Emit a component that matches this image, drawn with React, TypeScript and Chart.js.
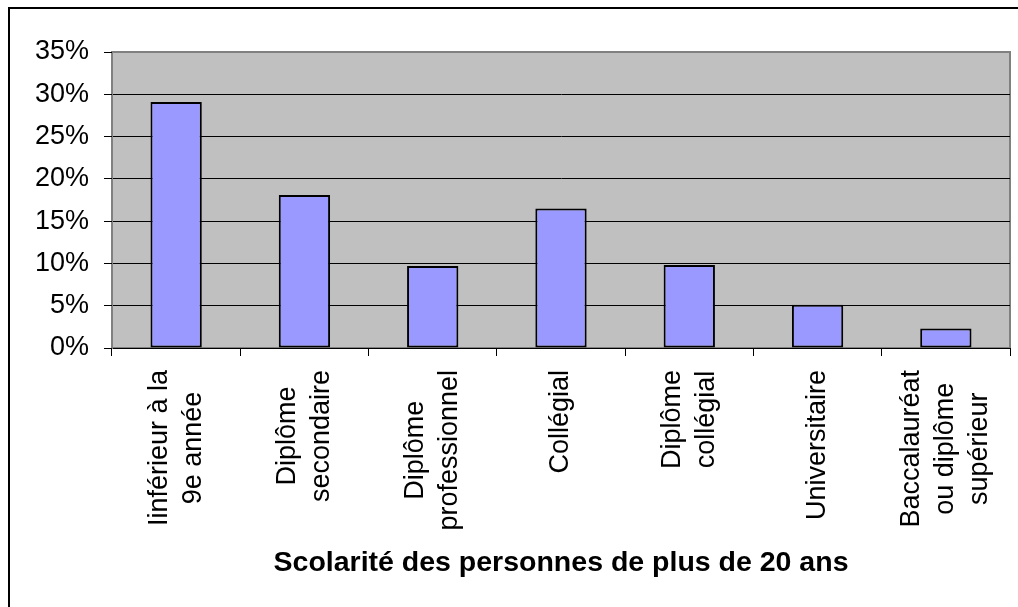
import React, { useEffect, useRef } from "react";
import { Chart, registerables } from "chart.js";

Chart.register(...registerables);

const categories: string[][] = [
  ["Iinférieur à la", "9e année"],
  ["Diplôme", "secondaire"],
  ["Diplôme", "professionnel"],
  ["Collégial"],
  ["Diplôme", "collégial"],
  ["Universitaire"],
  ["Baccalauréat", "ou diplôme", "supérieur"],
];
const values: number[] = [29.1, 18.1, 9.7, 16.5, 9.8, 5.1, 2.3];
const yMin = 0;
const yMax = 35;
const yStep = 5;
const axisTitle = "Scolarité des personnes de plus de 20 ans";

const FONT = "'Liberation Sans', Arial, sans-serif";
const TICK_SIZE = 27;
const LINE_SPACING = 34;

const decorPlugin = {
  id: "decor",
  beforeDraw(chart: any) {
    const { ctx, chartArea } = chart;
    ctx.save();
    // outer frame
    ctx.strokeStyle = "#000";
    ctx.lineWidth = 2;
    ctx.strokeRect(9, 8, 3000, 3000);
    // plot background
    ctx.fillStyle = "#C0C0C0";
    ctx.fillRect(chartArea.left, chartArea.top, chartArea.right - chartArea.left, chartArea.bottom - chartArea.top);
    ctx.strokeStyle = "#808080";
    ctx.lineWidth = 2;
    ctx.strokeRect(chartArea.left, chartArea.top, chartArea.right - chartArea.left, chartArea.bottom - chartArea.top);
    ctx.restore();
  },
  afterDraw(chart: any) {
    const { ctx } = chart;
    const xs = chart.scales.x;
    const yTop = xs.top + 22;
    ctx.save();
    ctx.fillStyle = "#000";
    ctx.font = `${TICK_SIZE}px ${FONT}`;
    ctx.textAlign = "center";
    ctx.textBaseline = "middle";
    categories.forEach((lines, i) => {
      const cx = xs.getPixelForValue(i);
      const w = Math.max(...lines.map((l) => ctx.measureText(l).width));
      const n = lines.length;
      lines.forEach((line, j) => {
        ctx.save();
        ctx.translate(cx + (j - (n - 1) / 2) * LINE_SPACING, yTop + w / 2);
        ctx.rotate(-Math.PI / 2);
        ctx.fillText(line, 0, 0);
        ctx.restore();
      });
    });
    ctx.restore();
  },
};

export default function App() {
  const ref = useRef<HTMLCanvasElement>(null);
  useEffect(() => {
    if (!ref.current) return;
    const chart = new Chart(ref.current, {
      type: "bar",
      data: {
        labels: categories.map((c) => c.join(" ")),
        datasets: [
          {
            data: values,
            backgroundColor: "#9999FF",
            borderColor: "#000000",
            borderWidth: 2,
            borderSkipped: false,
            barPercentage: 0.4,
            categoryPercentage: 1,
          },
        ],
      },
      options: {
        responsive: false,
        animation: false,
        layout: { padding: { top: 52, right: 8, left: 0, bottom: 0 } },
        plugins: { legend: { display: false }, tooltip: { enabled: false }, title: { display: false } },
        scales: {
          x: {
            offset: true,
            grid: { display: true, drawOnChartArea: false, drawTicks: true, tickLength: 8, color: "#000", offset: true },
            border: { display: true, color: "#000", width: 1 },
            ticks: { display: false },
            title: {
              display: true,
              text: axisTitle,
              color: "#000",
              font: { family: FONT, size: 28.5, weight: "bold" },
              padding: { top: 0, bottom: 27 },
            },
            afterFit: (s: any) => {
              s.height = 259;
            },
          },
          y: {
            min: yMin,
            max: yMax,
            ticks: {
              stepSize: yStep,
              color: "#000",
              padding: 15,
              font: { family: FONT, size: TICK_SIZE },
              callback: (v: any) => `${v}%`,
            },
            grid: {
              color: (c: any) => (c.tick && c.tick.value === yMax ? "#808080" : "#000"),
              tickColor: "#000",
              tickLength: 8,
              lineWidth: 1,
            },
            border: { display: true, color: "#808080", width: 1 },
            afterFit: (s: any) => {
              s.width = 112;
            },
          },
        },
      },
      plugins: [decorPlugin],
    });
    return () => chart.destroy();
  }, []);
  return (
    <div style={{ position: "absolute", left: 0, top: 0, width: 1018, height: 607, background: "#fff" }}>
      <canvas ref={ref} width={1018} height={607} />
    </div>
  );
}
